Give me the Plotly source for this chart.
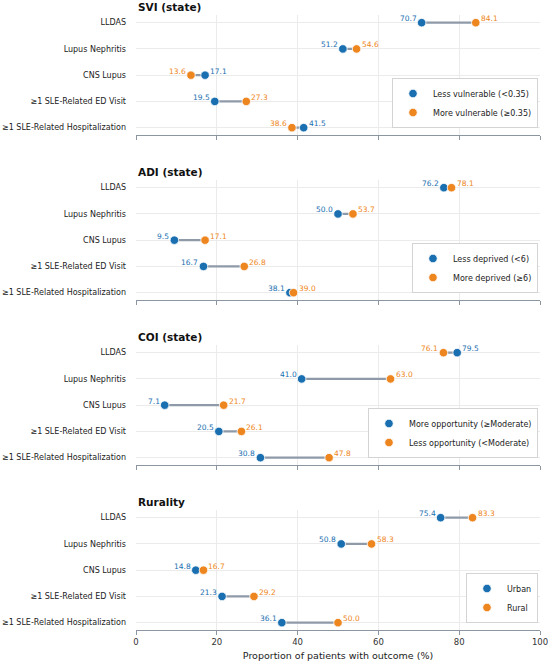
import plotly.graph_objects as go

# outcome rows, top to bottom
outcomes = ["LLDAS", "Lupus Nephritis", "CNS Lupus",
            "≥1 SLE-Related ED Visit", "≥1 SLE-Related Hospitalization"]

panel_titles = ["SVI (state)", "ADI (state)", "COI (state)", "Rurality"]

blue_names = ["Less vulnerable (<0.35)", "Less deprived (<6)",
              "More opportunity (≥Moderate)", "Urban"]
orange_names = ["More vulnerable (≥0.35)", "More deprived (≥6)",
                "Less opportunity (<Moderate)", "Rural"]

# proportion of patients with outcome (%)
svi_blue = [70.7, 51.2, 17.1, 19.5, 41.5]
svi_orange = [84.1, 54.6, 13.6, 27.3, 38.6]
adi_blue = [76.2, 50.0, 9.5, 16.7, 38.1]
adi_orange = [78.1, 53.7, 17.1, 26.8, 39.0]
coi_blue = [79.5, 41.0, 7.1, 20.5, 30.8]
coi_orange = [76.1, 63.0, 21.7, 26.1, 47.8]
rural_blue = [75.4, 50.8, 14.8, 21.3, 36.1]
rural_orange = [83.3, 58.3, 16.7, 29.2, 50.0]

blue_values = [svi_blue, adi_blue, coi_blue, rural_blue]
orange_values = [svi_orange, adi_orange, coi_orange, rural_orange]

x_ticks = [0, 20, 40, 60, 80, 100]

BLUE = "#1a6fb0"
ORANGE = "#ee8620"
LINE = "#8e9aa8"
GRID = "#ebebeb"
AXIS = "#8c96a0"
FONT = "DejaVu Sans"
H = 664

fig = go.Figure()
annotations = []

for k in range(4):
    sfx = "" if k == 0 else str(k + 1)
    xa, ya = "x" + sfx, "y" + sfx
    leg = "legend" + sfx
    b_vals, o_vals = blue_values[k], orange_values[k]

    # connecting segments
    lx, ly = [], []
    for cat, b, o in zip(outcomes, b_vals, o_vals):
        lx += [b, o, None]
        ly += [cat, cat, None]
    fig.add_trace(go.Scatter(x=lx, y=ly, mode="lines", xaxis=xa, yaxis=ya,
                             line=dict(color=LINE, width=2.2),
                             showlegend=False, hoverinfo="skip"))

    for vals, name, col in [(b_vals, blue_names[k], BLUE),
                            (o_vals, orange_names[k], ORANGE)]:
        fig.add_trace(go.Scatter(
            x=vals, y=outcomes, mode="markers", name=name,
            xaxis=xa, yaxis=ya, legend=leg,
            marker=dict(color=col, size=8.5, line=dict(color="white", width=0.8))))

    # value labels: lower value on the left, higher on the right
    for cat, b, o in zip(outcomes, b_vals, o_vals):
        for v, other, col in [(b, o, BLUE), (o, b, ORANGE)]:
            left = v < other
            annotations.append(dict(
                x=v, y=cat, xref=xa, yref=ya, text=f"{v:.1f}",
                showarrow=False, xanchor="right" if left else "left",
                yanchor="middle", xshift=-3 if left else 3, yshift=4,
                font=dict(family=FONT, size=7.5, color=col)))

    top_px = 14.8 + 165 * k
    bot_px = 135 + 165 * k
    fig.layout["xaxis" + sfx] = dict(
        domain=[0, 1], anchor=ya, range=[0, 100], tickvals=x_ticks,
        showticklabels=(k == 3), ticks="outside", ticklen=4,
        tickcolor=AXIS, showline=True, linecolor=AXIS, linewidth=1,
        showgrid=True, gridcolor=GRID, gridwidth=1, zeroline=False,
        tickfont=dict(family=FONT, size=8.5, color="#333"),
        title=dict(text="Proportion of patients with outcome (%)" if k == 3 else "",
                   font=dict(family=FONT, size=9.5, color="#222"), standoff=6))
    fig.layout["yaxis" + sfx] = dict(
        domain=[1 - bot_px / H, 1 - top_px / H], anchor=xa,
        type="category", categoryarray=outcomes, range=[4.28, -0.3],
        showgrid=True, gridcolor=GRID, gridwidth=1, zeroline=False,
        showline=False, ticks="", ticklabelstandoff=9,
        tickfont=dict(family=FONT, size=8, color="#222"))
    fig.layout[leg] = dict(
        x=0.995, xanchor="right", y=1 - (bot_px - 7) / H, yanchor="bottom",
        bgcolor="white", bordercolor="#d4d4d4", borderwidth=1,
        font=dict(family=FONT, size=8, color="#222"), itemwidth=30)

    annotations.append(dict(
        x=0, y=1 - (7.3 + 165 * k) / H, xref="paper", yref="paper",
        text="<b>" + panel_titles[k] + "</b>", showarrow=False,
        xanchor="left", yanchor="middle",
        font=dict(family=FONT, size=10.5, color="#111")))

fig.update_layout(width=550, height=H, margin=dict(l=136, r=10, t=0, b=0),
                  plot_bgcolor="white", paper_bgcolor="white",
                  annotations=annotations, font=dict(family=FONT))

# the page's default body margin would push the figure off the window
fig.write_html("out.html", config={"displayModeBar": False},
               post_script="document.body.style.margin='0';"
                           "document.body.style.overflow='hidden';")
